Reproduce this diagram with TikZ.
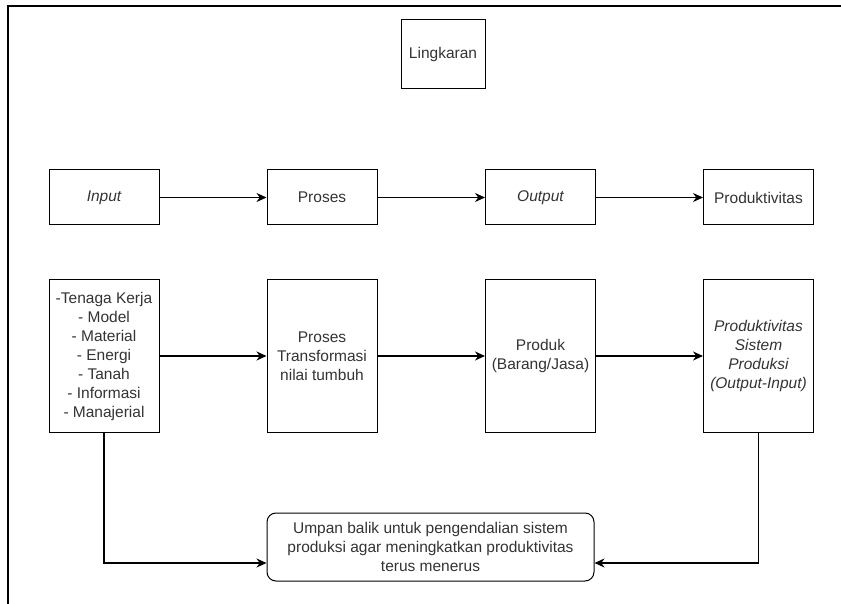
\documentclass[tikz,border=0pt]{standalone}
\usepackage{fontspec}
\setmainfont{Liberation Sans}
\usetikzlibrary{shapes,calc,positioning,arrows.meta}

\begin{document}
\begin{tikzpicture}[x=1pt,y=-1pt,
  kotak/.style={draw,line width=1pt,align=center,text=black!80,
    font=\fontsize{15.5}{19}\selectfont,inner sep=1pt,
    minimum width=110pt},
  atas/.style={kotak,minimum height=55pt},
  bawah/.style={kotak,minimum height=152pt},
  panah/.style={line width=1.1pt,-{Stealth[length=10pt,width=9pt]}}]
\useasboundingbox (0,0) rectangle (841,604);
\draw[line width=1.5pt] (8,604) -- (8,6) -- (841,6);

\node[kotak,minimum width=84pt,minimum height=69pt] (lingkaran) at (443,54.5) {Lingkaran};

\node[atas] (input) at (104,197.5) {\itshape Input};
\node[atas] (proses) at (322,197.5) {Proses};
\node[atas] (output) at (540.5,197.5) {\itshape Output};
\node[atas] (prod) at (758.5,197.5) {Produktivitas};

\node[bawah] (sumber) at (104,356) {-Tenaga Kerja\\- Model\\- Material\\- Energi\\- Tanah\\- Informasi\\- Manajerial};
\node[bawah] (transformasi) at (322,356) {Proses\\Transformasi\\nilai tumbuh};
\node[bawah] (produk) at (540.5,356) {Produk\\(Barang/Jasa)};
\node[bawah,font=\fontsize{15.5}{19}\selectfont\itshape] (sistem) at (758.5,356) {Produktivitas\\Sistem\\Produksi\\(Output-Input)};

\node[kotak,rounded corners=9pt,minimum width=327pt,minimum height=68pt] (umpan) at (430.5,547)
  {Umpan balik untuk pengendalian sistem\\produksi agar meningkatkan produktivitas\\terus menerus};

\draw[panah] (input) -- (proses);
\draw[panah] (proses) -- (output);
\draw[panah] (output) -- (prod);

\draw[panah] (sumber) -- (transformasi);
\draw[panah] (transformasi) -- (produk);
\draw[panah] (produk) -- (sistem);

\draw[panah] (sumber.south) |- ([yshift=-16pt]umpan.west);
\draw[panah] (sistem.south) |- ([yshift=-16pt]umpan.east);

\end{tikzpicture}
\end{document}
